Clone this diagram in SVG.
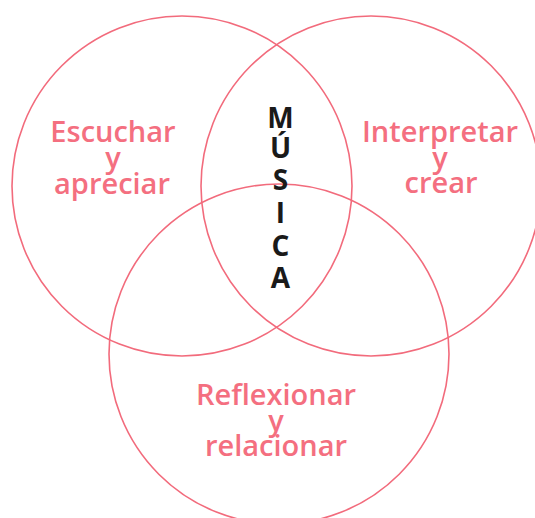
<svg xmlns="http://www.w3.org/2000/svg" width="535" height="518" viewBox="0 0 535 518">
<style>
.c{fill:none;stroke:#f26b7c;stroke-width:1.6}
.t{font-family:"Open Sans","Noto Sans",sans-serif;font-weight:600;font-size:29px;fill:#f46f80;text-anchor:middle}
.m{font-family:"Open Sans","Noto Sans",sans-serif;font-weight:700;font-size:28px;fill:#1a1a1a;text-anchor:middle}
</style>
<rect width="535" height="518" fill="#ffffff"/>
<g id="connectors"></g>
<g id="escuchar">
<circle class="c" cx="182" cy="186" r="170"/>
<text class="t" x="113" y="142">Escuchar</text>
<text class="t" x="113" y="168">y</text>
<text class="t" x="112" y="194">apreciar</text>
</g>
<g id="interpretar">
<circle class="c" cx="371" cy="186" r="170"/>
<text class="t" x="440" y="142">Interpretar</text>
<text class="t" x="440" y="168">y</text>
<text class="t" x="441" y="193">crear</text>
</g>
<g id="reflexionar">
<circle class="c" cx="279" cy="354" r="170"/>
<text class="t" x="276" y="405">Reflexionar</text>
<text class="t" x="276" y="431">y</text>
<text class="t" x="276" y="456">relacionar</text>
</g>
<g id="musica">
<text class="m" x="280.5" y="128">M</text>
<text class="m" x="280.5" y="158">Ú</text>
<text class="m" x="280.5" y="190">S</text>
<text class="m" x="280.5" y="223">I</text>
<text class="m" x="280.5" y="256">C</text>
<text class="m" x="280.5" y="288">A</text>
</g>
</svg>
